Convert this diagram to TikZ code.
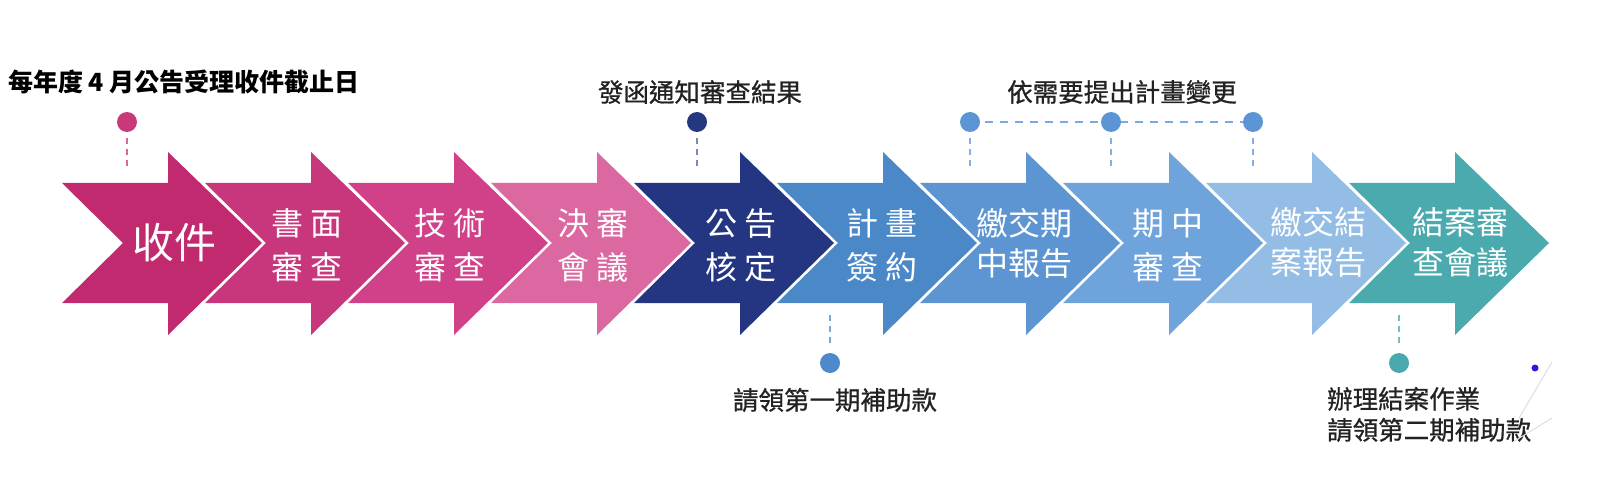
\documentclass[tikz,border=0pt]{standalone}
\usepackage{fontspec}
\newfontfamily\cjk{Noto Sans CJK TC}
\newfontfamily\cjkfb[FakeBold=0.8]{Noto Sans CJK TC}
\definecolor{aA}{HTML}{C22A6F}
\definecolor{aB}{HTML}{C8367B}
\definecolor{aC}{HTML}{D1418A}
\definecolor{aD}{HTML}{DC68A1}
\definecolor{aE}{HTML}{243682}
\definecolor{aF}{HTML}{4B88C8}
\definecolor{aG}{HTML}{5D95D3}
\definecolor{aH}{HTML}{6FA3DB}
\definecolor{aI}{HTML}{93BDE5}
\definecolor{aJ}{HTML}{4BAAAE}
\definecolor{dotPink}{HTML}{C8397A}
\definecolor{dotNavy}{HTML}{25377F}
\definecolor{dotBlue}{HTML}{5B95D6}
\definecolor{dotBlueB}{HTML}{4E8ACB}
\definecolor{dotTeal}{HTML}{4AA9AE}
\definecolor{dotViolet}{HTML}{3A12E0}
\definecolor{anncol}{HTML}{222222}
\definecolor{faint}{HTML}{DDDDDD}
\newcommand\chev[2]{\fill[#2, xshift=#1pt] (62,183) -- (168,183) -- (168,152) -- (262,243) -- (168,335) -- (168,303) -- (62,303) -- (123,243) -- cycle;}
\tikzset{
  lbl/.style={text=white, font=\cjk\fontsize{32}{44}\selectfont, align=center, inner sep=0pt},
  lblthree/.style={text=white, font=\cjk\fontsize{32}{40}\selectfont, align=center, inner sep=0pt},
  ann/.style={text=anncol, font=\cjkfb\fontsize{25.5}{31}\selectfont, inner sep=0pt},
  dotnode/.style={circle, fill=#1, minimum size=20pt, inner sep=0pt},
  vdash/.style={draw=#1, line width=1.5pt, dash pattern=on 6pt off 5pt},
  hdash/.style={draw=#1, line width=1.5pt, dash pattern=on 8pt off 7pt},
}
\begin{document}
\begin{tikzpicture}[x=1pt,y=-1pt]
\useasboundingbox (0,0) rectangle (1600,481);
% chevrons
\chev{0}{aA}
\chev{143}{aB}
\chev{286}{aC}
\chev{429}{aD}
\chev{572}{aE}
\chev{715}{aF}
\chev{858}{aG}
\chev{1001}{aH}
\chev{1144}{aI}
\chev{1287}{aJ}
% labels
\node[text=white, font=\cjk\fontsize{42}{46}\selectfont, inner sep=0pt] (s1) at (174,243) {收件};
\node[lbl] (s2) at (307,245) {書\kern7pt面\\審\kern7pt查};
\node[lbl] (s3) at (450,245) {技\kern7pt術\\審\kern7pt查};
\node[lbl] (s4) at (593,245) {決\kern7pt審\\會\kern7pt議};
\node[lbl] (s5) at (741,245) {公\kern7pt告\\核\kern7pt定};
\node[lbl] (s6) at (882,245) {計\kern7pt畫\\簽\kern7pt約};
\node[lblthree] (s7) at (1024,243) {繳交期\\中報告};
\node[lbl] (s8) at (1168,245) {期\kern7pt中\\審\kern7pt查};
\node[lblthree] (s9) at (1318,242) {繳交結\\案報告};
\node[lblthree] (s10) at (1460,242) {結案審\\查會議};
% top annotations
\node[anchor=west, text=black, font=\cjk\bfseries\fontsize{25}{28}\selectfont, inner sep=0pt] (t1) at (8,82) {每年度 4 月公告受理收件截止日};
\node[ann] (t2) at (700,92) {發函通知審查結果};
\node[ann] (t3) at (1122,92) {依需要提出計畫變更};
% bottom annotations
\node[ann] (b1) at (835,400) {請領第一期補助款};
\node[ann, anchor=west, align=left] (b2) at (1327,414.5) {辦理結案作業\\請領第二期補助款};
% dots and dashed connectors
\coordinate (e1) at (127,168);
\coordinate (e2) at (697,168);
\coordinate (e3) at (970,168);
\coordinate (e4) at (1111,168);
\coordinate (e5) at (1253,168);
\coordinate (e6) at (830,313);
\coordinate (e7) at (1399,313);
\draw[hdash=dotBlue!80] (970,122) -- (1253,122);
\node[dotnode=dotPink] (d1) at (127,122) {};
\node[dotnode=dotNavy] (d2) at (697,122) {};
\node[dotnode=dotBlue] (d3) at (970,122) {};
\node[dotnode=dotBlue] (d4) at (1111,122) {};
\node[dotnode=dotBlue] (d5) at (1253,122) {};
\node[dotnode=dotBlueB] (d6) at (830,363) {};
\node[dotnode=dotTeal] (d7) at (1399,363) {};
\draw[vdash=dotPink!75] ([yshift=-6pt]d1.south) -- (e1);
\draw[vdash=dotNavy!60] ([yshift=-6pt]d2.south) -- (e2);
\draw[vdash=dotBlue!75] ([yshift=-6pt]d3.south) -- (e3);
\draw[vdash=dotBlue!75] ([yshift=-6pt]d4.south) -- (e4);
\draw[vdash=dotBlue!75] ([yshift=-6pt]d5.south) -- (e5);
\draw[vdash=dotBlueB!75] ([yshift=10pt]d6.north) -- (e6);
\draw[vdash=dotTeal!75] ([yshift=10pt]d7.north) -- (e7);
% stray marks at right
\node[circle, fill=dotViolet, minimum size=7pt, inner sep=0pt] (pv) at (1535,368) {};
\coordinate (f1) at (1552,362);
\coordinate (f2) at (1519,418);
\coordinate (f3) at (1552,418);
\coordinate (f4) at (1513,442);
\draw[faint, line width=1pt] (f1) -- (f2);
\draw[faint, line width=1pt] (f3) -- (f4);
\end{tikzpicture}
\end{document}
